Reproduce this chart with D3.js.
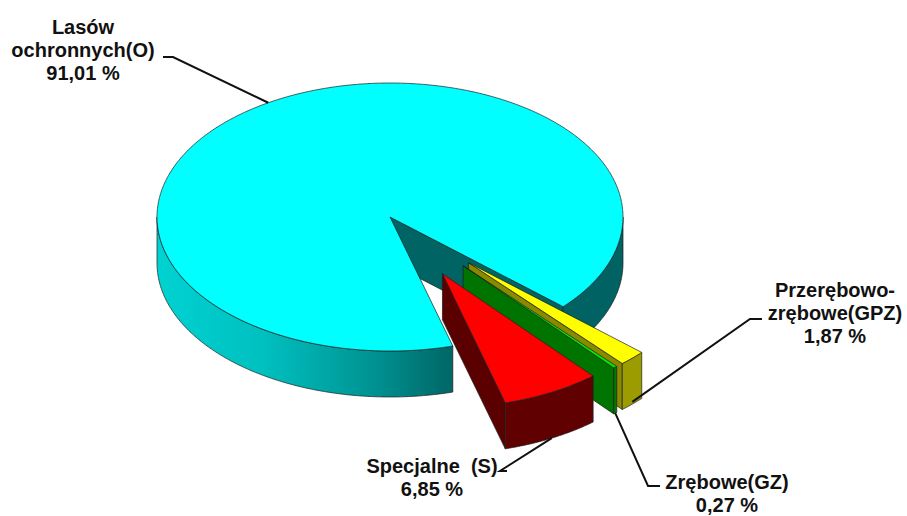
<!DOCTYPE html>
<html>
<head>
<meta charset="utf-8">
<script src="https://cdn.jsdelivr.net/npm/d3@7/dist/d3.min.js"></script>
<style>
  html, body { margin: 0; padding: 0; background: #ffffff; }
  svg { display: block; }
  text { font-family: "Liberation Sans", Arial, sans-serif; font-weight: bold; font-size: 20px; fill: #111; }
</style>
</head>
<body>
<svg id="chart" width="907" height="516"></svg>
<script>
// Udział powierzchni według rodzaju lasu (%), kolejność zgodnie z ruchem wskazówek zegara
const categories = ["Lasów ochronnych(O)", "Przerębowo-zrębowe(GPZ)", "Zrębowe(GZ)", "Specjalne  (S)"];
const values = [91.01, 1.87, 0.27, 6.85];
const valueLabels = ["91,01 %", "1,87 %", "0,27 %", "6,85 %"];
const labelLines = [["Lasów", "ochronnych(O)"], ["Przerębowo-", "zrębowe(GPZ)"], ["Zrębowe(GZ)"], ["Specjalne  (S)"]];
const exploded = [false, true, true, true];

// Kolory: wierzch i ściany boczne plastrów
const topColors = ["#00ffff", "#ffff00", "#00ee00", "#ff0000"];
const sideColors = ["url(#cyanSide)", "#9c9c00", "#007a00", "#600000"];
const cutColors = ["#006464", "#8a8a00", "#007400", "#5a0000"];

const svg = d3.select("#chart");

// Geometria rzutu tortu 3D
const cx = 390, cy = 217, rx = 233, ry = 134, depth = 46, explode = 0.48;

const defs = svg.append("defs");
const grad = defs.append("linearGradient")
  .attr("id", "cyanSide").attr("gradientUnits", "userSpaceOnUse")
  .attr("x1", cx - rx).attr("x2", cx + 70).attr("y1", 0).attr("y2", 0);
grad.append("stop").attr("offset", 0).attr("stop-color", "#00d2d2");
grad.append("stop").attr("offset", 0.35).attr("stop-color", "#00c0c0");
grad.append("stop").attr("offset", 0.7).attr("stop-color", "#009494");
grad.append("stop").attr("offset", 1).attr("stop-color", "#006262");

// d3.pie liczy kąty od godziny 12; przesunięcie startu tak, by plaster O zaczynał się przy ~74° (od osi poziomej)
const startDeg = 74.36 + 90;
const pie = d3.pie().sort(null).value(d => d)
  .startAngle(startDeg * Math.PI / 180)
  .endAngle((startDeg + 360) * Math.PI / 180);
const arcs = pie(values);

// kąt ekranowy (od osi x, zgodnie z ruchem wskazówek)
const scr = a => a - Math.PI / 2;

const slices = arcs.map((a, i) => {
  const a0 = scr(a.startAngle), a1 = scr(a.endAngle), mid = (a0 + a1) / 2;
  const ox = exploded[i] ? explode * rx * Math.cos(mid) : 0;
  const oy = exploded[i] ? explode * ry * Math.sin(mid) : 0;
  return { i, a0, a1, mid, x0: cx + ox, y0: cy + oy };
});

function pt(s, t, dz) {
  return [s.x0 + rx * Math.cos(t), s.y0 + ry * Math.sin(t) + (dz || 0)];
}
function arcPts(s, t0, t1, dz) {
  const n = Math.max(2, Math.ceil(Math.abs(t1 - t0) / 0.01));
  return d3.range(n + 1).map(k => pt(s, t0 + (t1 - t0) * k / n, dz));
}
const line = d3.line();

const g = svg.append("g");
const strokeCol = "#1c1c1c", strokeW = 0.7;

slices.forEach(s => {
  const i = s.i;
  const sg = g.append("g");
  // ściany przekroju (widoczne, gdy zwrócone ku obserwatorowi)
  if (Math.cos(s.a1) > 0) {
    const e = pt(s, s.a1);
    sg.append("path")
      .attr("d", line([[s.x0, s.y0], e, [e[0], e[1] + depth], [s.x0, s.y0 + depth]]) + "Z")
      .attr("fill", cutColors[i]).attr("stroke", strokeCol).attr("stroke-width", strokeW);
  }
  if (Math.cos(s.a0) < 0) {
    const e = pt(s, s.a0);
    sg.append("path")
      .attr("d", line([[s.x0, s.y0], e, [e[0], e[1] + depth], [s.x0, s.y0 + depth]]) + "Z")
      .attr("fill", cutColors[i]).attr("stroke", strokeCol).attr("stroke-width", strokeW);
  }
  // zewnętrzna ściana boczna – tylko przednia połowa elipsy
  for (let k = -1; k <= 2; k++) {
    const lo = Math.max(s.a0, k * 2 * Math.PI), hi = Math.min(s.a1, k * 2 * Math.PI + Math.PI);
    if (hi > lo) {
      const top = arcPts(s, lo, hi, 0);
      const bot = arcPts(s, hi, lo, depth);
      sg.append("path")
        .attr("d", line(top.concat(bot)) + "Z")
        .attr("fill", sideColors[i]).attr("stroke", strokeCol).attr("stroke-width", strokeW);
    }
  }
  // wierzch plastra
  const topPts = [[s.x0, s.y0]].concat(arcPts(s, s.a0, s.a1, 0));
  sg.append("path")
    .attr("d", line(topPts) + "Z")
    .attr("fill", topColors[i]).attr("stroke", strokeCol).attr("stroke-width", strokeW);
});

// Etykiety z liniami odniesienia
const labelLayout = [
  { x: 83, y: 34, hook: [[163, 57], [173, 57]], at: { ang: 238.5, f: 0 } },
  { x: 835, y: 297, hook: [[762, 319], [750, 319]], at: { f: 0.95 } },
  { x: 727, y: 489, hook: [[660, 486], [648, 486]], at: { f: 1.0 } },
  { x: 432, y: 473, hook: [[507, 471], [500, 471]], at: { f: 1.0 } }
];
const lineH = 23;

slices.forEach(s => {
  const i = s.i, L = labelLayout[i];
  const ang = L.at.ang !== undefined ? L.at.ang * Math.PI / 180 : s.mid;
  const p = [s.x0 + rx * Math.cos(ang), s.y0 + ry * Math.sin(ang) + L.at.f * depth];
  svg.append("path").attr("d", line([L.hook[0], L.hook[1], p]))
    .attr("fill", "none").attr("stroke", "#111").attr("stroke-width", 2);

  const t = svg.append("text").attr("text-anchor", "middle").attr("xml:space", "preserve")
    .style("white-space", "pre");
  const rows = labelLines[i].concat([valueLabels[i]]);
  rows.forEach((r, k) => {
    t.append("tspan").attr("x", L.x).attr("y", L.y + k * lineH).text(r);
  });
});
</script>
</body>
</html>
